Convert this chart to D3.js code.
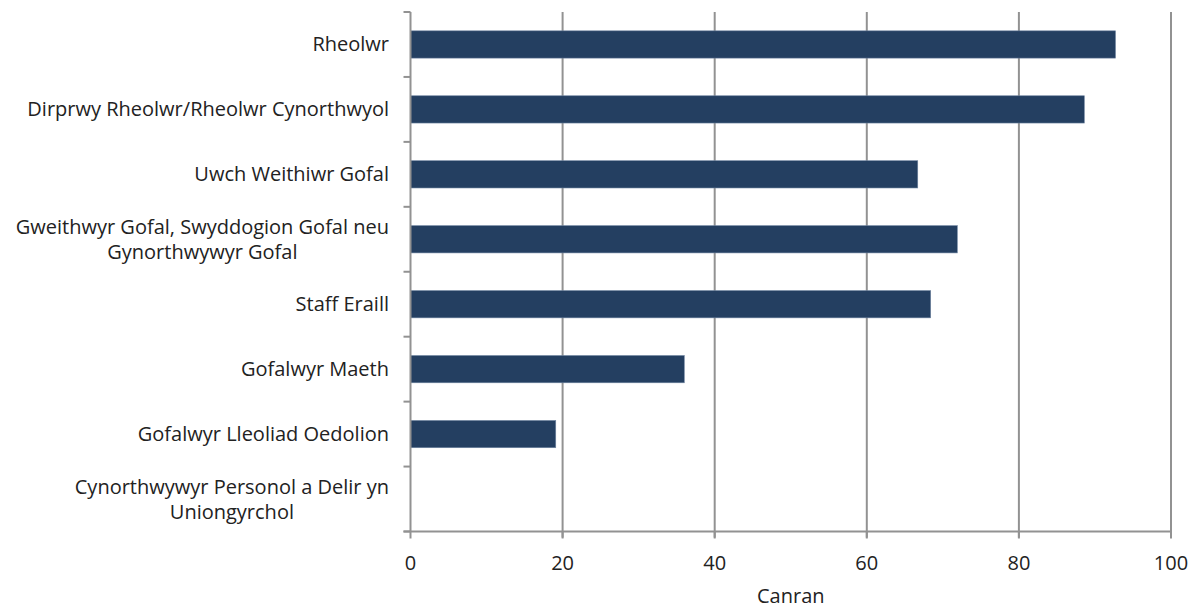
<!DOCTYPE html>
<html><head><meta charset="utf-8">
<script src="https://cdn.jsdelivr.net/npm/d3@7"></script>
<style>body{margin:0;background:#fff;} text{font-family:"Open Sans","Noto Sans",sans-serif;fill:#222;}</style>
</head><body><svg id="c" width="1190" height="609"></svg>
<script>
const categories = [
  ["Rheolwr"],
  ["Dirprwy Rheolwr/Rheolwr Cynorthwyol"],
  ["Uwch Weithiwr Gofal"],
  ["Gweithwyr Gofal, Swyddogion Gofal neu", "Gynorthwywyr Gofal"],
  ["Staff Eraill"],
  ["Gofalwyr Maeth"],
  ["Gofalwyr Lleoliad Oedolion"],
  ["Cynorthwywyr Personol a Delir yn", "Uniongyrchol"]
];
const values = [92.7, 88.6, 66.7, 71.9, 68.4, 36.0, 19.1, 0];
const xTicks = [0, 20, 40, 60, 80, 100];
const xTitle = "Canran";

(function() {
const svg = d3.select("#c");
const pL = 410.5, pR = 1171, pT = 12, pB = 531.5;
const fs = 20;
const x = d3.scaleLinear().domain([0, 100]).range([pL, pR]);
const y = d3.scaleBand().domain(d3.range(categories.length)).range([pT, pB]).paddingInner(0.58).paddingOuter(0.29);
const band = d3.scaleBand().domain(d3.range(categories.length)).range([pT, pB]);
const grid = "#929292";

svg.append("g").selectAll("line").data(xTicks.slice(1)).join("line")
  .attr("x1", d => x(d)).attr("x2", d => x(d)).attr("y1", pT).attr("y2", pB + 6)
  .attr("stroke", grid).attr("stroke-width", 2);

svg.append("g").selectAll("rect").data(values).join("rect")
  .attr("x", x(0)).attr("y", (d, i) => y(i)).attr("width", d => x(d) - x(0)).attr("height", y.bandwidth())
  .attr("fill", "#243f61").attr("stroke", "#6f84a0").attr("stroke-width", d => d > 0 ? 0.6 : 0);

svg.append("line").attr("x1", pL).attr("x2", pL).attr("y1", pT).attr("y2", pB).attr("stroke", grid).attr("stroke-width", 2);
const yTickPos = d3.range(categories.length + 1).map(i => pT + i * band.step());
svg.append("g").selectAll("line").data(yTickPos).join("line")
  .attr("x1", pL - 7).attr("x2", pL).attr("y1", d => d).attr("y2", d => d)
  .attr("stroke", grid).attr("stroke-width", 2);

svg.append("line").attr("x1", pL - 7).attr("x2", pR).attr("y1", pB).attr("y2", pB).attr("stroke", grid).attr("stroke-width", 2);
svg.append("g").selectAll("line").data(xTicks).join("line")
  .attr("x1", d => x(d)).attr("x2", d => x(d)).attr("y1", pB).attr("y2", pB + 7)
  .attr("stroke", grid).attr("stroke-width", 2);
svg.append("g").selectAll("text").data(xTicks).join("text")
  .attr("x", d => x(d)).attr("y", 570).attr("text-anchor", "middle").attr("font-size", fs).text(d => d);
svg.append("text").attr("x", x(50)).attr("y", 603).attr("text-anchor", "middle").attr("font-size", fs).text(xTitle);

const lab = svg.append("g").selectAll("text").data(categories).join("text")
  .attr("text-anchor", "middle").attr("font-size", fs);
lab.each(function(lines, i) {
  const cy = band(i) + band.step() / 2;
  const t = d3.select(this);
  const lh = 25;
  const y0 = cy - (lines.length - 1) * lh / 2 + 7;
  lines.forEach((s, k) => t.append("tspan").attr("y", y0 + k * lh).text(s));
});
lab.each(function() {
  const t = d3.select(this);
  const w = d3.max(t.selectAll("tspan").nodes(), n => n.getComputedTextLength());
  t.selectAll("tspan").attr("x", 389 - w / 2);
});
})();
</script></body></html>
